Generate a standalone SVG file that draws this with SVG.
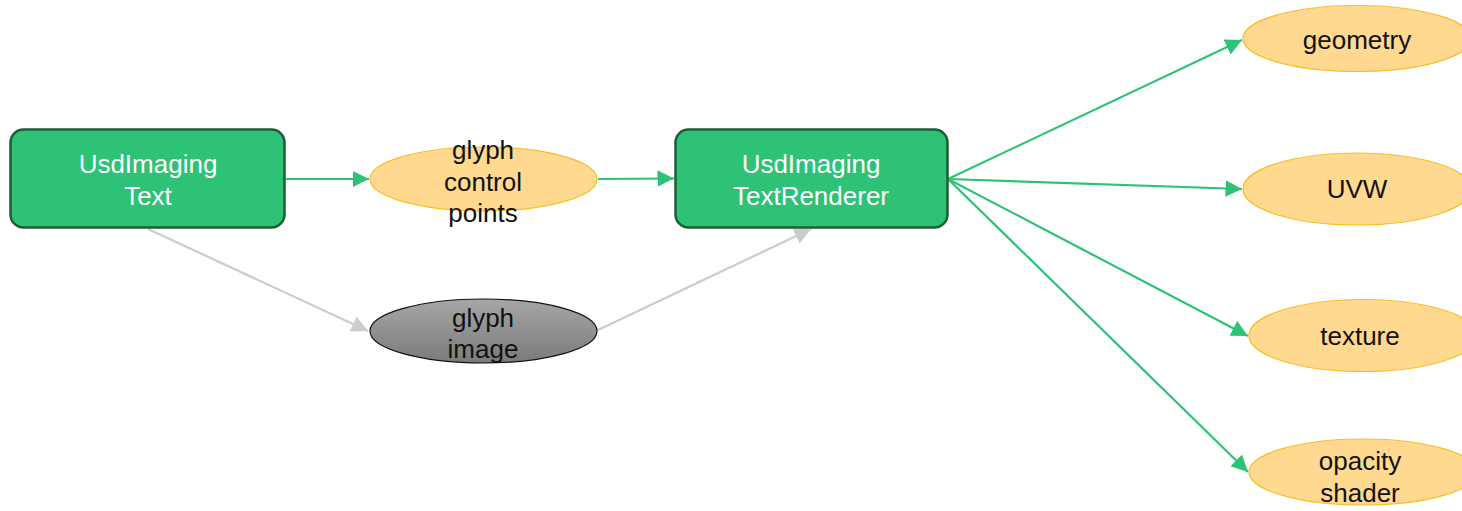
<svg xmlns="http://www.w3.org/2000/svg" width="1462" height="511" viewBox="0 0 1462 511">
<style>
.box{fill:#2dc275;stroke:#1b5e37;stroke-width:2.5}
.oval{fill:#ffd98f;stroke:#f5bf2a;stroke-width:1.2}
.gray{fill:url(#gg);stroke:#111;stroke-width:1.2}
.wt{font-family:"Liberation Sans",Arial,sans-serif;font-size:26px;fill:#fff;text-anchor:middle}
.bt{font-family:"Liberation Sans",Arial,sans-serif;font-size:26px;fill:#111;text-anchor:middle}
.eg{stroke:#2dc275;stroke-width:2.2;fill:none}
.ey{stroke:#cccccc;stroke-width:2.2;fill:none}
</style>
<defs>
<linearGradient id="gg" x1="0" y1="0" x2="0" y2="1">
<stop offset="0" stop-color="#a6a6a6"/>
<stop offset="1" stop-color="#7b7b7b"/>
</linearGradient>
<marker id="ag" viewBox="0 0 10 10" refX="10" refY="5" markerWidth="7.5" markerHeight="7.5" markerUnits="strokeWidth" orient="auto"><path d="M0,0 L10,5 L0,10 z" fill="#2dc275"/></marker>
<marker id="ay" viewBox="0 0 10 10" refX="10" refY="5" markerWidth="7.5" markerHeight="7.5" markerUnits="strokeWidth" orient="auto"><path d="M0,0 L10,5 L0,10 z" fill="#cccccc"/></marker>
</defs>
<g id="connectors">
<line class="eg" x1="286" y1="179" x2="369" y2="179" marker-end="url(#ag)"/>
<line class="eg" x1="598" y1="179" x2="674" y2="178.5" marker-end="url(#ag)"/>
<line class="ey" x1="148" y1="229" x2="368" y2="331" marker-end="url(#ay)"/>
<line class="ey" x1="598" y1="330" x2="811" y2="229" marker-end="url(#ay)"/>
<line class="eg" x1="948" y1="179" x2="1242" y2="40" marker-end="url(#ag)"/>
<line class="eg" x1="948" y1="179" x2="1242" y2="189" marker-end="url(#ag)"/>
<line class="eg" x1="948" y1="179" x2="1248" y2="336" marker-end="url(#ag)"/>
<line class="eg" x1="948" y1="179" x2="1248" y2="472" marker-end="url(#ag)"/>
</g>
<g id="usdimaging-text">
<rect class="box" x="10.5" y="129.5" width="274" height="98" rx="13"/>
<text class="wt" x="148" y="173">UsdImaging</text>
<text class="wt" x="148" y="205">Text</text>
</g>
<g id="glyph-control-points">
<ellipse class="oval" cx="483.5" cy="179" rx="113.5" ry="32"/>
<text class="bt" x="483" y="159">glyph</text>
<text class="bt" x="483" y="191">control</text>
<text class="bt" x="483" y="222">points</text>
</g>
<g id="glyph-image">
<ellipse class="gray" cx="483.5" cy="331" rx="113.5" ry="32"/>
<text class="bt" x="483" y="327">glyph</text>
<text class="bt" x="483" y="358">image</text>
</g>
<g id="usdimaging-textrenderer">
<rect class="box" x="675.5" y="129.5" width="272" height="98" rx="13"/>
<text class="wt" x="811" y="173">UsdImaging</text>
<text class="wt" x="811" y="205">TextRenderer</text>
</g>
<g id="geometry">
<ellipse class="oval" cx="1357" cy="38.5" rx="114" ry="33"/>
<text class="bt" x="1357" y="49">geometry</text>
</g>
<g id="uvw">
<ellipse class="oval" cx="1357" cy="189" rx="114" ry="36"/>
<text class="bt" x="1357" y="198">UVW</text>
</g>
<g id="texture">
<ellipse class="oval" cx="1363" cy="335.5" rx="114" ry="36"/>
<text class="bt" x="1360" y="345">texture</text>
</g>
<g id="opacity-shader">
<ellipse class="oval" cx="1363" cy="472" rx="114" ry="33"/>
<text class="bt" x="1360" y="470">opacity</text>
<text class="bt" x="1360" y="502">shader</text>
</g>
</svg>
